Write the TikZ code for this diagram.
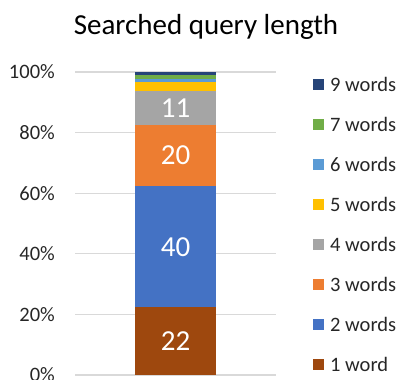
\documentclass[tikz,border=0pt]{standalone}
\usepackage{fontspec}
\setmainfont{Carlito}
\definecolor{cw1}{HTML}{9E480E}
\definecolor{cw2}{HTML}{4472C4}
\definecolor{cw3}{HTML}{ED7D31}
\definecolor{cw4}{HTML}{A5A5A5}
\definecolor{cw5}{HTML}{FFC000}
\definecolor{cw6}{HTML}{5B9BD5}
\definecolor{cw7}{HTML}{70AD47}
\definecolor{cw9}{HTML}{264478}
\definecolor{gridc}{HTML}{D9D9D9}
\tikzset{
  gridline/.style={draw=gridc, line width=1.3bp},
  axislabel/.style={anchor=east, inner sep=0pt, font=\fontsize{20.5bp}{24bp}\selectfont, text=black!85},
  datalabel/.style={inner sep=0pt, text=white, font=\fontsize{29bp}{34bp}\selectfont},
  legendkey/.style={minimum size=11bp, inner sep=0pt},
  legendtext/.style={anchor=west, inner sep=0pt, font=\fontsize{20.5bp}{24bp}\selectfont, text=black!85},
}
\begin{document}
\begin{tikzpicture}[x=1bp, y=-1bp]
\useasboundingbox (0,0) rectangle (402,380);
% title
\node[font=\fontsize{29bp}{34bp}\selectfont, inner sep=0pt] (title) at (206,27) {Searched query length};
% gridlines and axis labels (0% at y=375, 100% at y=72)
\foreach \p/\yy in {0/375, 20/314.4, 40/253.8, 60/193.2, 80/132.6, 100/72}{
  \draw[gridline] (75,\yy) -- (276,\yy);
  \node[axislabel] (ax\p) at (55,\yy) {\p\%};
}
% stacked bar
\fill[cw1] (135,375) rectangle (216,307.4);
\fill[cw2] (135,307.4) rectangle (216,186);
\fill[cw3] (135,186) rectangle (216,124.5);
\fill[cw4] (135,124.5) rectangle (216,91);
\fill[cw5] (135,91) rectangle (216,81.7);
\fill[cw6] (135,81.7) rectangle (216,79);
\fill[cw7] (135,79) rectangle (216,75);
\fill[cw9] (135,75) rectangle (216,72);
% segment values
\node[datalabel] (v1) at (175.5,341.5) {22};
\node[datalabel] (v2) at (175.5,247) {40};
\node[datalabel] (v3) at (175.5,155.5) {20};
\node[datalabel] (v4) at (175.5,108) {11};
% legend
\foreach \c/\t/\yy [count=\i] in {cw9/9 words/84.3, cw7/7 words/124.3, cw6/6 words/164.3, cw5/5 words/204.3, cw4/4 words/244.3, cw3/3 words/284.3, cw2/2 words/324.3, cw1/1 word/364.3}{
  \node[legendkey, fill=\c] (k\i) at (318,\yy) {};
  \node[legendtext] (l\i) at (330,\yy) {\t};
}
\end{tikzpicture}
\end{document}
